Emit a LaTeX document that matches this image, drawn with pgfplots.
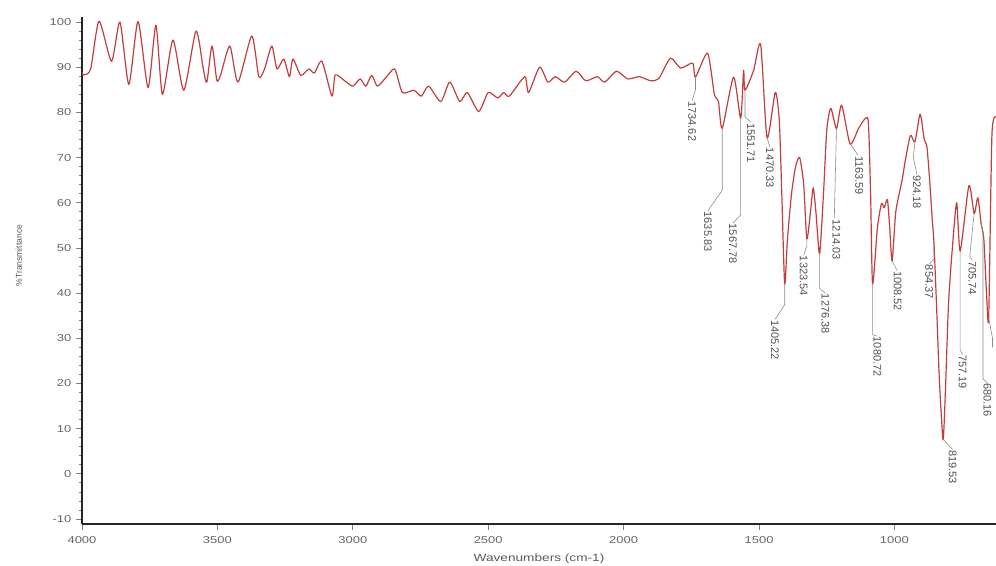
\documentclass[border=0pt]{standalone}
\usepackage{pgfplots}
\pgfplotsset{compat=1.18}
\usepackage{fontspec}
\setmainfont{Liberation Sans}
\definecolor{spec}{RGB}{192,62,62}
\definecolor{lab}{RGB}{80,80,80}
\definecolor{lead}{RGB}{140,140,140}
\newcommand{\pk}{\fontsize{11}{11}\selectfont}
\begin{document}
\begin{tikzpicture}[x=1pt,y=1pt]
\begin{axis}[
  at={(82pt,41pt)}, anchor=south west,
  scale only axis, width=914pt, height=506.5pt,
  x dir=reverse, xmin=625, xmax=4000, ymin=-11.1, ymax=101,
  axis x line*=bottom, axis y line*=left,
  axis line style={line width=2.2pt, color=black!85},
  xtick={1000,1500,...,4000}, ytick={-10,0,...,100},
  minor y tick num=4,
  tick align=outside,
  major tick length=6pt, minor tick length=3pt,
  every tick/.style={black!50, line width=0.8pt},
  tick label style={font=\fontsize{10}{10}\selectfont, text=black!60, xscale=1.3},
  xticklabel style={yshift=-3pt},
  /pgf/number format/assume math mode=true,
  /pgf/number format/1000 sep={},
  xlabel={Wavenumbers (cm-1)},
  ylabel={\%Transmittance},
  xlabel style={at={(axis description cs:0.5,0)}, anchor=center, yshift=-35pt, font=\fontsize{10.5}{10.5}\selectfont, text=black!65, xscale=1.3},
  ylabel style={at={(axis description cs:-0.069,0.53)}, anchor=center, font=\fontsize{8.5}{8.5}\selectfont, text=black!65},
]
\addplot[spec, line width=1.2pt, smooth, tension=0.4, line join=round] coordinates {
(4000,88.8) (3993,88.3) (3968,89.6) (3937,100.2) (3891,91.3) (3860,100.0) (3827,86.2)
(3793,100.1) (3756,85.5) (3727,99.3) (3703,84.0) (3664,96.0) (3624,84.9) (3579,98.0)
(3552,89.6) (3539,86.7) (3520,94.7) (3502,87.1) (3488,88.3) (3454,94.7) (3424,86.7)
(3373,96.9) (3347,87.9) (3326,89.6) (3299,94.7) (3280,89.6) (3255,91.8) (3234,87.9)
(3221,91.8) (3192,88.2) (3162,89.6) (3142,88.7) (3114,91.3) (3077,83.6) (3065,88.3)
(3030,87.0) (3000,85.8) (2973,87.4) (2952,85.8) (2930,88.2) (2909,85.8) (2875,87.9)
(2845,89.6) (2817,84.4) (2775,84.9) (2747,83.6) (2720,85.8) (2675,82.4) (2642,86.7)
(2605,82.4) (2577,84.4) (2535,80.2) (2500,84.4) (2465,83.2) (2443,84.4) (2422,83.6)
(2365,87.9) (2351,84.4) (2310,90.0) (2280,86.7) (2252,87.9) (2218,86.7) (2175,89.1)
(2140,87.0) (2097,87.9) (2070,86.7) (2026,89.1) (1985,87.4) (1942,87.9) (1900,87.0)
(1870,87.5) (1827,92.0) (1790,89.8) (1745,90.9) (1734.62,87.8) (1690,93.1) (1665,84.0)
(1650,82.5) (1635.83,76.5) (1594,87.8) (1567.78,78.7) (1557,89.3) (1551.71,84.9)
(1520,89.3) (1494,95.0) (1470.33,74.4) (1440,84.4) (1425,78) (1415,60) (1405.22,42.0)
(1395,52) (1380,62) (1365,68) (1350,70) (1335,64) (1323.54,52) (1310,58) (1300,63.3)
(1290,58) (1276.38,48.7) (1262,62) (1250,76) (1235,80.9) (1214.03,76.4) (1195,81.6)
(1163.59,73) (1133,76.4) (1107,78.7) (1096,77.6) (1088,62) (1080.72,42) (1063,54.4)
(1048,59.8) (1038,58.9) (1026,60.7) (1018,55) (1008.52,47.1) (995,58) (972,64.9)
(960,69.3) (941,74.9) (924.18,73.5) (905,79.6) (890,74) (880,72.4) (870,65) (860,56)
(854.37,51.5) (845,38) (835,22) (825,11) (819.53,7.6) (812,18) (800,38) (784,51.6)
(770,60) (757.19,49.3) (725,63.8) (705.74,57.6) (692,61.1) (680.16,55.5) (670,52)
(660,40) (652,34.5) (640,75) (625,79)
};
% leader lines
\begin{scope}[lead, line width=0.6pt]
\draw (axis cs:1734.62,87.8) -- (axis cs:1734.62,85) -- (axis cs:1747,82.6);
\draw (axis cs:1635.83,76.5) -- (axis cs:1635.83,62.8) -- (axis cs:1689,58.2);
\draw (axis cs:1567.78,78.7) -- (axis cs:1567.78,57.3) -- (axis cs:1596,55.5);
\draw (axis cs:1551.71,84.9) -- (axis cs:1551.71,79) -- (axis cs:1530,77.8);
\draw (axis cs:1470.33,74.4) -- (axis cs:1460,72.3);
\draw (axis cs:1405.22,42.0) -- (axis cs:1405.22,37.4) -- (axis cs:1441,34.2);
\draw (axis cs:1323.54,52.0) -- (axis cs:1323.54,50.5) -- (axis cs:1335,48.4);
\draw (axis cs:1276.38,48.7) -- (axis cs:1276.38,41) -- (axis cs:1255,40.0);
\draw (axis cs:1214.03,76.4) -- (axis cs:1222,56.6);
\draw (axis cs:1163.59,73.0) -- (axis cs:1135,70.6);
\draw (axis cs:1080.72,42.0) -- (axis cs:1080.72,30.8) -- (axis cs:1065,30.5);
\draw (axis cs:1008.52,47.1) -- (axis cs:990,45.0);
\draw (axis cs:924.18,73.5) -- (axis cs:930,70) -- (axis cs:917,66.3);
\draw (axis cs:854.37,51.5) -- (axis cs:854.37,47.5) -- (axis cs:872,46.4);
\draw (axis cs:819.53,7.6) -- (axis cs:785,5.4);
\draw (axis cs:757.19,49.3) -- (axis cs:757.19,27.5) -- (axis cs:748,26.4);
\draw (axis cs:705.74,57.6) -- (axis cs:722,48.2) -- (axis cs:712,47.2);
\draw (axis cs:680.16,55.5) -- (axis cs:673,53.5) -- (axis cs:673,21) -- (axis cs:657,20.2);
\draw (axis cs:652,34.5) -- (axis cs:638,30) -- (axis cs:638,28);
\end{scope}
% peak labels
\begin{scope}[every node/.style={rotate=-90, anchor=west, inner sep=0.6pt, font=\pk, text=lab}]
\node at (axis cs:1747,82.6) {1734.62};
\node at (axis cs:1689,58.2) {1635.83};
\node at (axis cs:1596,55.5) {1567.78};
\node at (axis cs:1530,77.8) {1551.71};
\node at (axis cs:1460,72.3) {1470.33};
\node at (axis cs:1441,34.2) {1405.22};
\node at (axis cs:1335,48.4) {1323.54};
\node at (axis cs:1255,40.0) {1276.38};
\node at (axis cs:1214,56.4) {1214.03};
\node at (axis cs:1130,70.5) {1163.59};
\node at (axis cs:1063,30.5) {1080.72};
\node at (axis cs:988,45.0) {1008.52};
\node at (axis cs:917,66.3) {924.18};
\node at (axis cs:872,46.4) {854.37};
\node at (axis cs:785,5.4) {819.53};
\node at (axis cs:748,26.4) {757.19};
\node at (axis cs:712,47.2) {705.74};
\node at (axis cs:657,20.2) {680.16};
\end{scope}
\end{axis}
\pgfresetboundingbox
\path[use as bounding box] (0,0) rectangle (996,565);
\end{tikzpicture}
\end{document}
